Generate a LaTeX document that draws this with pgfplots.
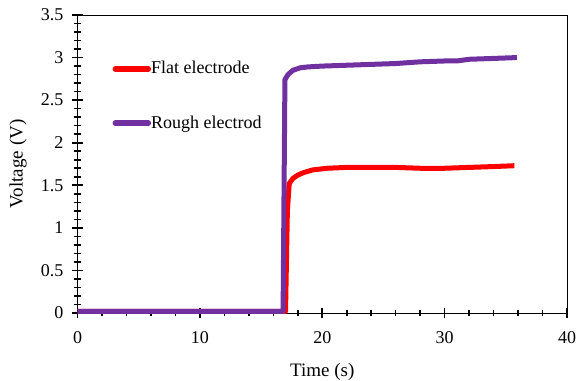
\documentclass[border=0pt]{standalone}
\usepackage{fontspec}
\setmainfont{Liberation Serif}
\usepackage{pgfplots}
\pgfplotsset{compat=1.18}
\definecolor{fred}{RGB}{255,0,0}
\definecolor{rpurple}{RGB}{112,48,160}
\begin{document}
\fontsize{18bp}{21bp}\selectfont
\begin{tikzpicture}
\begin{axis}[
  name=ax,
  scale only axis,
  width=489.5bp, height=298bp,
  xmin=0, xmax=40, ymin=0, ymax=3.5,
  xtick={0,10,20,30,40}, ytick={0,0.5,1,1.5,2,2.5,3,3.5},
  yticklabels={0,0.5,1,1.5,2,2.5,3,3.5},
  minor x tick num=4, minor y tick num=4,
  tick align=center,
  major tick length=10bp, minor tick length=6bp,
  tick style={black, line width=1.6pt},
  axis line style={black, line width=1pt},
  xtick pos=bottom, ytick pos=left,
  /pgf/number format/assume math mode=true,
  tick label style={font=\fontsize{18bp}{21bp}\selectfont},
  xticklabel style={yshift=-7bp},
  yticklabel style={xshift=-3bp},
  xlabel={Time (s)}, ylabel={Voltage (V)},
  xlabel style={yshift=-8bp},
  ylabel style={yshift=2bp},
  label style={font=\fontsize{19bp}{22bp}\selectfont},
  legend style={at={(axis cs:2.85,2.98)}, anchor=north west, draw=none, fill=none,
    font=\fontsize{18bp}{21bp}\selectfont, row sep=35bp, inner sep=0pt,
    nodes={inner xsep=0pt}},
  legend cell align=left,
  legend image code/.code={\draw[#1, line width=5.5bp, line cap=round] (0bp,0bp) -- (33bp,0bp);},
]
\addplot[fred, line width=5bp, line join=round] coordinates {
(0,0.02) (17.0,0.02) (17.15,1.2) (17.3,1.52) (17.6,1.58) (18.0,1.62) (18.5,1.65) (19.2,1.68) (20.4,1.70)
(22,1.71) (24,1.71) (26,1.71) (28,1.70) (30,1.70) (32,1.71) (34,1.72) (35.7,1.73)};
\addlegendentry{Flat electrode}
\addplot[rpurple, line width=5bp, line join=round] coordinates {
(0,0.02) (16.8,0.02) (16.95,2.74) (17.2,2.80) (17.6,2.85) (18.2,2.88) (18.8,2.89) (20,2.90)
(22,2.91) (24,2.92) (26,2.93) (28,2.95) (30,2.96) (31,2.96) (32,2.98) (34,2.99) (35.9,3.00)};
\addlegendentry{Rough electrod}
\end{axis}
\pgfresetboundingbox
\path ([xshift=-77.5bp,yshift=-68bp]ax.south west) rectangle ([xshift=12bp,yshift=15bp]ax.north east);
\end{tikzpicture}
\end{document}
